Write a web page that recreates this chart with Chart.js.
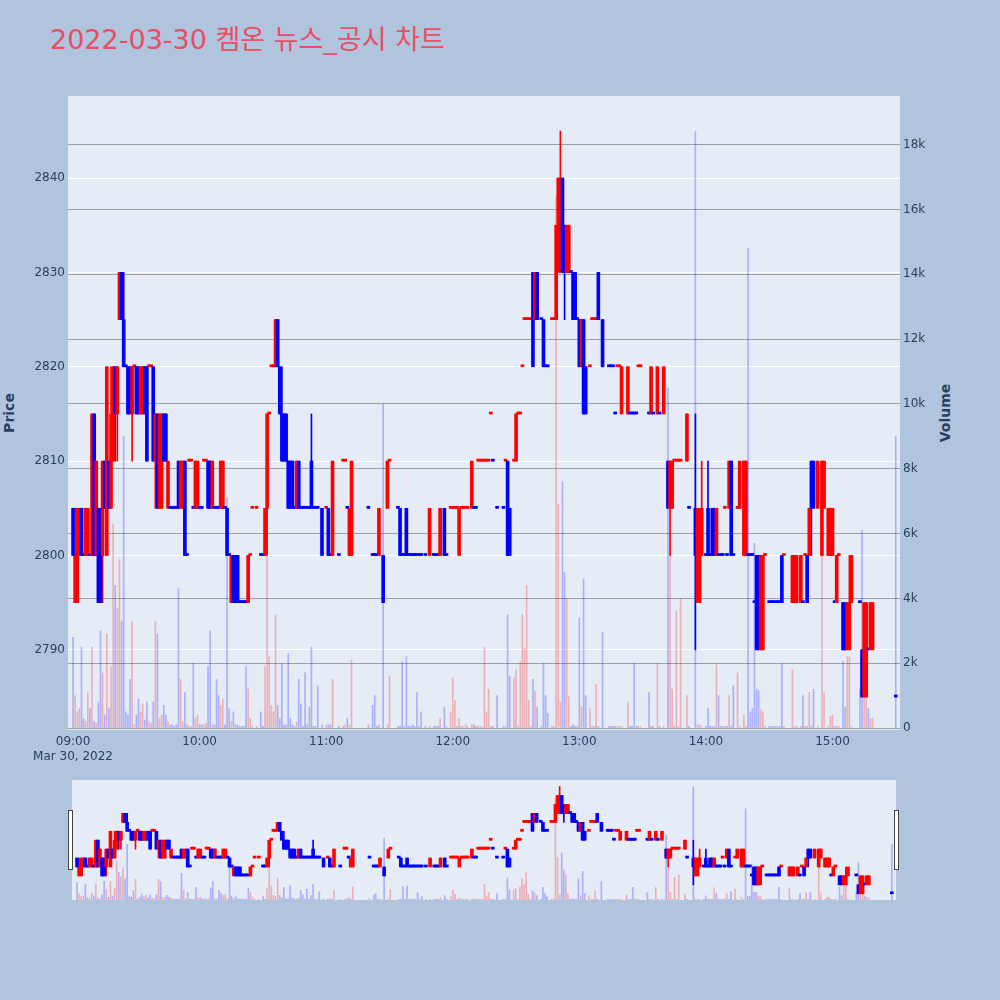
<!DOCTYPE html>
<html>
<head>
<meta charset="utf-8">
<script src="https://cdn.jsdelivr.net/npm/chart.js@4.4.1/dist/chart.umd.min.js"></script>
<style>
  body { margin: 0; width: 1000px; height: 1000px; background: #b0c4de; position: relative; overflow: hidden; font-family: "DejaVu Sans", "Noto Sans CJK KR", sans-serif; }
  #title { position: absolute; left: 50px; top: 24px; font-size: 27px; line-height: 32px; color: #e94e64; white-space: nowrap; }
  .axis-title { position: absolute; font-size: 14px; font-weight: bold; color: #2a3f5f; transform: translate(-50%, -50%) rotate(-90deg); white-space: nowrap; }
  #main { position: absolute; left: 0; top: 0; }
  #mini { position: absolute; left: 72px; top: 780px; }
  .handle { position: absolute; top: 810px; width: 3px; height: 58px; background: #fff; border: 1px solid #444; }
</style>
</head>
<body>
<div id="title">2022-03-30 켐온 뉴스_공시 차트</div>
<div class="axis-title" style="left:9px;top:413px">Price</div>
<div class="axis-title" style="left:945px;top:413px">Volume</div>
<canvas id="main" width="1000" height="775"></canvas>
<canvas id="mini" width="824" height="120"></canvas>
<div class="handle" style="left:68px"></div>
<div class="handle" style="left:894px"></div>
<script>
// one entry per minute from 09:00 (index 0) to 15:30 (index 390), null = no trade
const opens = [
  2805,2795,2795,2800,2805,2800,2800,2800,2800,2800,
  2815,2800,2805,2805,2800,2810,2800,2810,2805,2810,
  2820,2815,2825,2830,2825,2820,2820,2820,2815,2820,
  2820,2820,2815,2815,2820,2820,2820,2820,2820,2810,
  2815,2805,2805,2815,2815,2805,2805,2805,2805,2805,
  2810,2805,2805,2810,2800,2810,2810,2805,2805,2805,
  2805,2805,2810,2810,2810,2810,2805,2805,2805,2805,
  2805,2805,2805,2805,2800,2795,2800,2800,2800,2795,
  2795,2795,2795,2795,2800,2805,null,2805,null,2800,
  2800,2800,2805,2815,2820,2820,2820,2825,2820,2815,
  2815,2815,2810,2810,2810,2805,2805,2810,2805,2805,
  2805,2805,2805,2810,2805,2805,2805,null,2805,null,
  2805,2805,2800,2800,null,null,2800,null,2810,2810,
  2805,2800,2800,null,null,null,null,null,null,null,
  2805,null,2800,2800,2800,2800,null,2800,null,2805,
  2810,null,null,null,2805,2805,2800,2800,2805,2800,
  2800,2800,2800,2800,2800,2800,null,2800,null,2800,
  null,2800,2800,2800,2800,null,2805,2800,null,2805,
  2805,2805,2805,2800,2805,2805,2805,2805,null,2805,
  2805,2805,2810,2810,2810,2810,2810,2810,2815,2810,
  null,2805,null,null,2805,2810,2810,2805,null,2810,
  2810,2815,2815,2820,2825,2825,2825,2825,2830,2825,
  2830,null,2825,2825,2820,2820,null,2825,2825,2825,
  2830,2835,2840,2835,2830,2830,2830,2830,2830,2825,
  2825,2820,2825,2820,null,2820,2825,2825,2825,2830,
  null,2825,null,null,2820,2820,2820,2815,2820,2820,
  2815,null,null,2815,2815,2815,2815,2815,2820,2820,
  null,null,null,2815,2815,2815,null,2815,2815,null,
  2815,null,2810,2805,2805,2810,2810,2810,2810,null,
  null,2810,2805,null,null,2805,2795,2795,2800,null,
  2800,2805,2800,2805,2805,2800,2800,2800,2800,2805,
  2800,2805,2810,2800,null,2805,2805,null,2800,2800,
  2800,2800,2800,2795,2800,2800,2790,2790,2800,null,
  2795,2795,2795,2795,2795,2795,2800,2800,null,null,
  null,2795,2795,2795,null,2795,2795,2800,2800,2800,
  2810,2810,null,2805,null,2800,2805,null,2800,2800,
  2800,2795,2795,2800,null,2795,2795,2790,2790,2795,
  null,null,null,2795,2790,2785,2785,2790,2790,2790,
  null,null,null,null,null,null,null,null,null,null,
  2785
];
const highs = [
  2805,2805,2805,2805,2805,2800,2805,2805,2800,2815,
  2815,2810,2805,2805,2810,2810,2820,2810,2820,2820,
  2820,2820,2830,2830,2830,2820,2820,2820,2820,2820,
  2820,2820,2820,2820,2820,2820,2820,2820,2820,2815,
  2815,2815,2815,2815,2815,2810,2805,2805,2805,2805,
  2810,2810,2810,2810,2800,2810,2810,2805,2810,2810,
  2805,2805,2810,2810,2810,2810,2810,2805,2805,2805,
  2810,2810,2805,2805,2800,2800,2800,2800,2800,2795,
  2795,2795,2795,2800,2800,2805,null,2805,null,2800,
  2800,2805,2815,2815,2820,2820,2825,2825,2820,2820,
  2815,2815,2810,2810,2810,2805,2810,2810,2805,2805,
  2805,2805,2805,2815,2805,2805,2805,null,2805,null,
  2805,2805,2800,2810,null,null,2800,null,2810,2810,
  2805,2805,2810,null,null,null,null,null,null,null,
  2805,null,2800,2800,2800,2805,null,2800,null,2810,
  2810,null,null,null,2805,2805,2800,2800,2805,2800,
  2800,2800,2800,2800,2800,2800,null,2800,null,2805,
  null,2800,2800,2800,2805,null,2805,2800,null,2805,
  2805,2805,2805,2805,2805,2805,2805,2805,null,2810,
  2805,2805,2810,2810,2810,2810,2810,2810,2815,2810,
  null,2805,null,null,2805,2810,2810,2805,null,2810,
  2815,2815,2815,2820,2825,2825,2825,2825,2830,2830,
  2830,null,2825,2825,2820,2820,null,2825,2825,2835,
  2840,2845,2840,2835,2835,2835,2830,2830,2830,2825,
  2825,2825,2825,2820,null,2820,2825,2825,2825,2830,
  null,2825,null,null,2820,2820,2820,2815,2820,2820,
  2820,null,null,2820,2815,2815,2815,2815,2820,2820,
  null,null,null,2815,2820,2815,null,2820,2815,null,
  2820,null,2810,2810,2810,2810,2810,2810,2810,null,
  null,2815,2805,null,null,2815,2805,2805,2810,null,
  2800,2810,2800,2805,2805,2805,2800,2800,2800,2805,
  2800,2810,2810,2800,null,2805,2810,null,2810,2810,
  2800,2800,2800,2795,2800,2800,2800,2800,2800,null,
  2795,2795,2795,2795,2795,2795,2800,2800,null,null,
  null,2800,2800,2800,null,2800,2795,2800,2800,2805,
  2810,2810,null,2810,null,2810,2810,null,2805,2805,
  2805,2795,2800,2800,null,2795,2795,2795,2800,2800,
  null,null,null,2795,2790,2795,2795,2790,2795,2795,
  null,null,null,null,null,null,null,null,null,null,
  2785
];
const lows = [
  2800,2795,2795,2800,2800,2800,2800,2800,2800,2800,
  2800,2800,2795,2795,2795,2805,2800,2805,2805,2810,
  2810,2810,2825,2825,2820,2820,2815,2815,2810,2820,
  2815,2815,2815,2815,2815,2810,2820,2820,2810,2805,
  2805,2805,2805,2810,2810,2805,2805,2805,2805,2805,
  2805,2805,2805,2800,2800,2810,2810,2805,2805,2805,
  2805,2805,2810,2810,2805,2805,2805,2805,2805,2805,
  2805,2805,2805,2800,2800,2795,2795,2795,2795,2795,
  2795,2795,2795,2795,2800,2805,null,2805,null,2800,
  2800,2800,2800,2815,2820,2820,2820,2820,2815,2810,
  2810,2810,2805,2805,2805,2805,2805,2805,2805,2805,
  2805,2805,2805,2805,2805,2805,2805,null,2800,null,
  2805,2800,2800,2800,null,null,2800,null,2810,2810,
  2805,2800,2800,null,null,null,null,null,null,null,
  2805,null,2800,2800,2800,2800,null,2795,null,2805,
  2810,null,null,null,2805,2800,2800,2800,2800,2800,
  2800,2800,2800,2800,2800,2800,null,2800,null,2800,
  null,2800,2800,2800,2800,null,2800,2800,null,2805,
  2805,2805,2805,2800,2805,2805,2805,2805,null,2805,
  2805,2805,2810,2810,2810,2810,2810,2810,2815,2810,
  null,2805,null,null,2805,2810,2800,2800,null,2810,
  2810,2815,2815,2820,2825,2825,2825,2825,2820,2825,
  2825,null,2825,2820,2820,2820,null,2825,2825,2825,
  2830,2830,2830,2825,2830,2830,2830,2825,2825,2825,
  2820,2820,2815,2815,null,2820,2825,2825,2825,2825,
  null,2820,null,null,2820,2820,2820,2815,2820,2820,
  2815,null,null,2815,2815,2815,2815,2815,2820,2820,
  null,null,null,2815,2815,2815,null,2815,2815,null,
  2815,null,2805,2800,2805,2810,2810,2810,2810,null,
  null,2810,2805,null,null,2790,2795,2795,2800,null,
  2800,2800,2800,2800,2800,2800,2800,2800,2800,2805,
  2800,2805,2800,2800,null,2805,2805,null,2800,2800,
  2800,2800,2800,2795,2790,2790,2790,2790,2800,null,
  2795,2795,2795,2795,2795,2795,2795,2800,null,null,
  null,2795,2795,2795,null,2795,2795,2800,2795,2800,
  2800,2805,null,2805,null,2800,2805,null,2800,2800,
  2800,2795,2795,2800,null,2790,2790,2790,2790,2795,
  null,null,null,2795,2785,2785,2785,2790,2790,2790,
  null,null,null,null,null,null,null,null,null,null,
  2785
];
const closes = [
  2800,2800,2805,2805,2800,2800,2805,2805,2800,2815,
  2800,2810,2795,2795,2810,2805,2820,2805,2815,2820,
  2815,2820,2830,2825,2820,2820,2815,2815,2820,2820,
  2815,2815,2820,2820,2815,2810,2820,2820,2810,2815,
  2805,2815,2815,2810,2810,2810,2805,2805,2805,2805,
  2805,2810,2810,2800,2800,2810,2810,2805,2810,2810,
  2805,2805,2810,2810,2805,2805,2810,2805,2805,2805,
  2810,2810,2805,2800,2800,2800,2795,2795,2795,2795,
  2795,2795,2795,2800,2800,2805,null,2805,null,2800,
  2800,2805,2815,2815,2820,2820,2825,2820,2815,2810,
  2810,2810,2805,2805,2805,2805,2810,2805,2805,2805,
  2805,2805,2805,2805,2805,2805,2805,null,2800,null,
  2805,2800,2800,2810,null,null,2800,null,2810,2810,
  2805,2805,2810,null,null,null,null,null,null,null,
  2805,null,2800,2800,2800,2805,null,2795,null,2810,
  2810,null,null,null,2805,2800,2800,2800,2800,2800,
  2800,2800,2800,2800,2800,2800,null,2800,null,2805,
  null,2800,2800,2800,2805,null,2800,2800,null,2805,
  2805,2805,2805,2805,2805,2805,2805,2805,null,2810,
  2805,2805,2810,2810,2810,2810,2810,2810,2815,2810,
  null,2805,null,null,2805,2810,2800,2800,null,2810,
  2815,2815,2815,2820,2825,2825,2825,2825,2820,2830,
  2825,null,2825,2820,2820,2820,null,2825,2825,2835,
  2840,2840,2830,2830,2835,2835,2830,2825,2825,2825,
  2820,2825,2815,2815,null,2820,2825,2825,2825,2825,
  null,2820,null,null,2820,2820,2820,2815,2820,2820,
  2820,null,null,2820,2815,2815,2815,2815,2820,2820,
  null,null,null,2815,2820,2815,null,2820,2815,null,
  2820,null,2805,2810,2810,2810,2810,2810,2810,null,
  null,2815,2805,null,null,2800,2805,2805,2805,null,
  2800,2800,2800,2800,2800,2805,2800,2800,2800,2805,
  2800,2810,2800,2800,null,2805,2810,null,2810,2810,
  2800,2800,2800,2795,2790,2790,2800,2800,2800,null,
  2795,2795,2795,2795,2795,2795,2795,2800,null,null,
  null,2800,2800,2800,null,2800,2795,2800,2795,2805,
  2805,2805,null,2810,null,2810,2810,null,2805,2805,
  2805,2795,2800,2800,null,2790,2790,2795,2795,2800,
  null,null,null,2795,2785,2795,2795,2790,2795,2795,
  null,null,null,null,null,null,null,null,null,null,
  2785
];
const volumes = [
  2800,1000,500,600,2500,300,200,1100,600,2500,
  200,150,800,3000,1700,400,2900,600,1900,6300,
  4400,3700,5200,3300,9000,500,400,1500,3300,100,
  400,900,500,750,250,800,200,150,800,3300,
  2900,300,400,700,400,200,100,100,50,100,
  4300,1500,200,1100,100,50,50,2000,300,400,
  100,100,100,150,1900,3000,100,100,1500,1000,
  700,900,100,7100,600,200,500,100,100,50,
  50,50,1900,1200,300,50,null,50,null,500,
  50,1900,5300,2200,700,500,3500,700,300,2000,
  100,100,2300,300,100,50,200,1500,750,50,
  1700,100,650,2500,50,50,1300,null,100,null,
  100,100,100,1500,null,null,50,null,50,100,
  300,100,2100,null,null,null,null,null,null,null,
  100,null,700,1000,50,100,null,10000,null,100,
  1600,null,null,null,50,50,2050,50,2200,50,
  50,100,50,1100,50,500,null,50,null,50,
  null,50,50,50,300,null,650,50,null,500,
  1550,850,50,300,50,50,100,50,null,100,
  100,50,50,50,50,2500,500,1200,50,50,
  null,1000,null,null,50,50,3500,1600,null,1550,
  1800,50,2050,3500,2450,4400,850,50,1500,1150,
  650,null,50,2000,1000,450,null,50,50,16400,
  6900,800,7600,4800,4000,970,50,100,50,50,
  3400,650,4600,1000,null,600,50,50,1350,50,
  null,2950,null,null,50,50,50,50,50,50,
  50,null,null,800,50,50,2000,50,50,50,
  null,null,null,1100,50,50,null,2000,50,null,
  50,null,10500,5400,1200,50,3600,50,4000,null,
  null,1000,50,null,null,18400,100,100,50,null,
  50,600,50,50,50,1950,1000,50,50,50,
  50,1000,50,1300,null,1700,50,null,400,50,
  14800,500,600,5700,1200,1150,570,500,50,null,
  50,50,50,50,50,50,2000,50,null,null,
  null,1800,50,50,null,50,1000,50,50,1100,
  50,1200,null,50,null,5500,1100,null,50,350,
  400,50,50,50,null,2050,650,2200,2200,50,
  null,null,null,1200,6100,2100,3600,600,300,300,
  null,null,null,null,null,null,null,null,null,null,
  9000
];

const hourTicks = [0, 60, 120, 180, 240, 300, 360];
const hourLabels = ['09:00', '10:00', '11:00', '12:00', '13:00', '14:00', '15:00'];
const dateLabel = 'Mar 30, 2022';
const priceTicks = [2790, 2800, 2810, 2820, 2830, 2840];
const volumeTicks = [0, 2000, 4000, 6000, 8000, 10000, 12000, 14000, 16000, 18000];

// candles up/down like plotly: equal open/close compares with previous close
const wicks = [], bodies = [], vols = [], dirs = [];
let inc = true, prevClose = null;
opens.forEach((o, i) => {
  if (o === null) return;
  const c = closes[i];
  if (c === o) {
    if (prevClose !== null && c !== prevClose) inc = c > prevClose;
  } else {
    inc = c > o;
  }
  prevClose = c;
  wicks.push({x: i, y: [lows[i], highs[i]]});
  bodies.push({x: i, y: [o, c]});
  vols.push({x: i, y: volumes[i]});
  dirs.push(inc);
});

const candleColors = dirs.map(d => d ? '#ff0000' : '#0000ff');
const volColors = dirs.map(d => d ? 'rgba(255,0,0,0.25)' : 'rgba(0,0,255,0.25)');

function makeDatasets() {
  return [
    {type: 'bar', data: vols, yAxisID: 'yv', backgroundColor: volColors, barThickness: 1, grouped: false, order: 3},
    {type: 'bar', data: wicks, yAxisID: 'y', backgroundColor: candleColors, barThickness: 1, grouped: false, order: 2},
    {type: 'bar', data: bodies, yAxisID: 'y', backgroundColor: candleColors, barThickness: 3, minBarLength: 2, grouped: false, order: 1}
  ];
}

const plotBg = {
  id: 'plotBg',
  beforeDraw(chart, args, opts) {
    const {ctx, chartArea: a} = chart;
    ctx.save();
    ctx.fillStyle = opts.color;
    ctx.fillRect(a.left, a.top, a.right - a.left, a.bottom - a.top);
    ctx.restore();
  }
};

const tickFont = {family: '"DejaVu Sans", sans-serif', size: 12};
const tickColor = '#2a3f5f';

new Chart(document.getElementById('main'), {
  data: {datasets: makeDatasets()},
  plugins: [plotBg],
  options: {
    responsive: false,
    animation: false,
    devicePixelRatio: 1,
    layout: {padding: {top: 96, right: 45, left: 0, bottom: 0}},
    plugins: {legend: {display: false}, tooltip: {enabled: false}, plotBg: {color: '#e5ecf6'}},
    scales: {
      x: {
        type: 'linear', min: -2.4, max: 392, offset: false,
        grid: {display: false, drawTicks: false}, border: {display: false},
        afterBuildTicks: s => { s.ticks = hourTicks.map(v => ({value: v})); },
        afterFit: s => { s.height = 45; },
        ticks: {
          color: tickColor, font: tickFont, padding: 5, maxRotation: 0, autoSkip: false,
          callback: v => {
            const k = hourTicks.indexOf(v);
            return k === 0 ? [hourLabels[0], dateLabel] : hourLabels[k];
          }
        }
      },
      y: {
        position: 'left', min: 2781.5, max: 2848.7,
        grid: {color: '#ffffff', lineWidth: 1, drawTicks: false}, border: {display: false},
        afterBuildTicks: s => { s.ticks = priceTicks.map(v => ({value: v})); },
        afterFit: s => { s.width = 68; },
        ticks: {color: tickColor, font: tickFont, padding: 3, callback: v => String(v)}
      },
      yv: {
        position: 'right', min: -60, max: 19500,
        grid: {color: 'rgba(110,110,110,0.6)', lineWidth: 1, drawTicks: false}, border: {display: false},
        afterBuildTicks: s => { s.ticks = volumeTicks.map(v => ({value: v})); },
        afterFit: s => { s.width = 55; },
        ticks: {color: tickColor, font: tickFont, padding: 3, callback: v => v === 0 ? '0' : (v / 1000) + 'k'}
      }
    }
  }
});

// range slider preview
new Chart(document.getElementById('mini'), {
  data: {datasets: makeDatasets()},
  plugins: [plotBg],
  options: {
    responsive: false,
    animation: false,
    devicePixelRatio: 1,
    layout: {padding: 0},
    plugins: {legend: {display: false}, tooltip: {enabled: false}, plotBg: {color: '#e5ecf6'}},
    scales: {
      x: {type: 'linear', min: -2.4, max: 392, offset: false, display: false},
      y: {min: 2781.5, max: 2848.7, display: false},
      yv: {position: 'right', min: -60, max: 19500, display: false}
    }
  }
});
</script>
</body>
</html>
